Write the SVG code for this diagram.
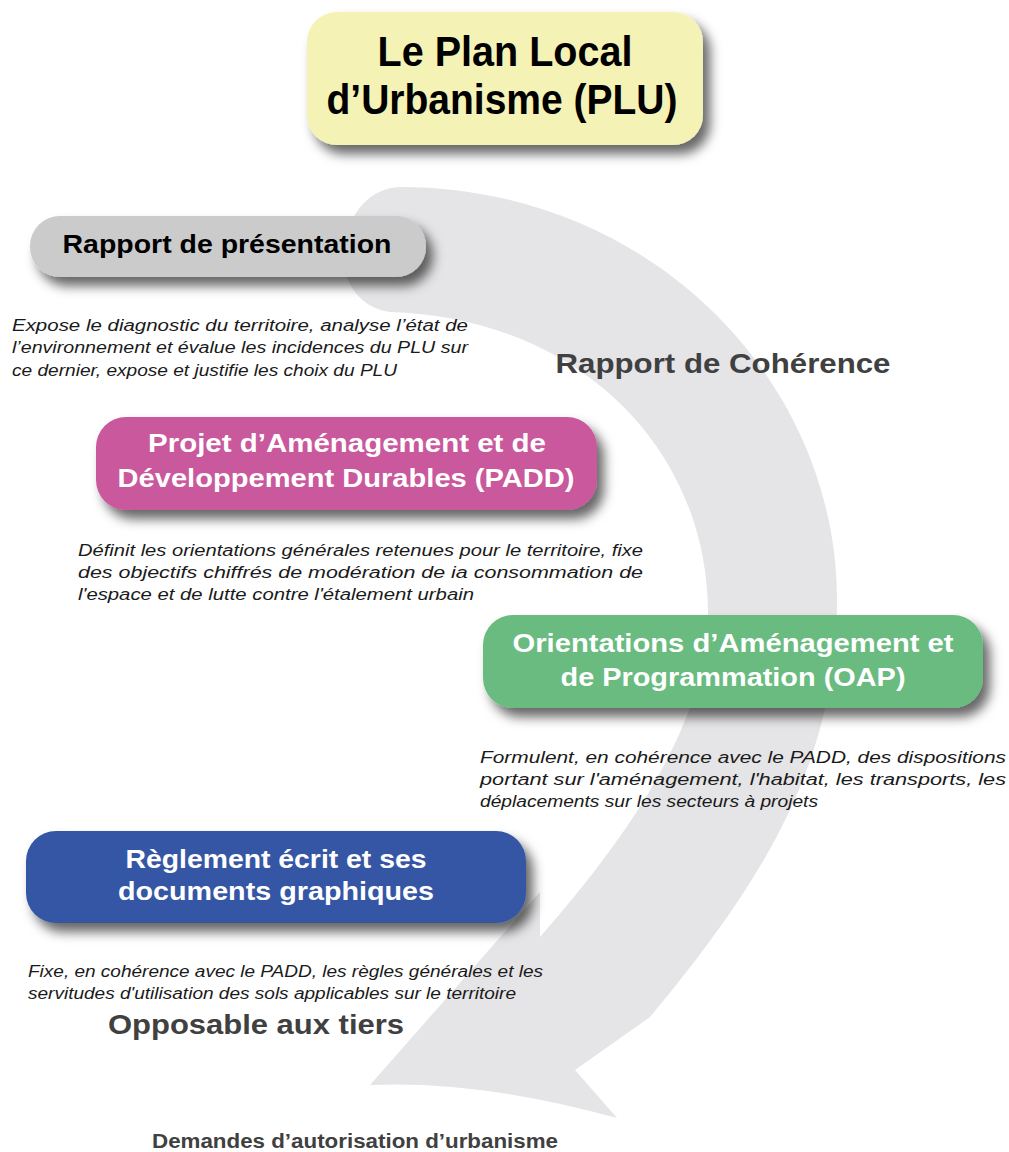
<svg xmlns="http://www.w3.org/2000/svg" width="1009" height="1152" viewBox="0 0 1009 1152">
  <defs>
    <filter id="shadow" x="-10%" y="-20%" width="130%" height="160%">
      <feDropShadow dx="7" dy="9" stdDeviation="6" flood-color="#000" flood-opacity="0.6"/>
    </filter>
    <style>
      .hdr { font-family: "Liberation Sans", Arial, sans-serif; font-weight: bold; text-anchor: middle; }
      .desc { font-family: "Liberation Sans", Arial, sans-serif; font-style: italic; font-size: 16px; fill: #1a1a1a; }
      .gray { font-family: "Liberation Sans", Arial, sans-serif; font-weight: bold; fill: #404040; text-anchor: middle; }
      .box { filter: url(#shadow); }
    </style>
  </defs>
  <rect width="1009" height="1152" fill="#ffffff"/>

  <g id="connectors">
    <path id="arc-arrow" fill="#e5e4e6" d="M 400,187 C 650,187 837,380 837,600 C 837,770 755,890 650,1017 L 575,1070 L 617,1118 Q 480,1080 370,1085 L 540,892 L 540,937 C 630,835 708,720 708,613 C 708,450 580,318 390,312 C 355,308 338,272 344,245 C 350,210 372,188 400,187 Z"/>
  </g>

  <g id="node-plu">
    <rect class="box" x="307" y="12" width="396" height="133" rx="30" fill="#f5f2b6"/>
    <text class="hdr" x="505" y="66" font-size="42" fill="#000" textLength="255" lengthAdjust="spacingAndGlyphs">Le Plan Local</text>
    <text class="hdr" x="502" y="114" font-size="42" fill="#000" textLength="351" lengthAdjust="spacingAndGlyphs">d’Urbanisme (PLU)</text>
  </g>

  <g id="node-rapport">
    <rect class="box" x="30" y="216" width="396" height="61" rx="30" fill="#cbcbcb"/>
    <text class="hdr" x="227" y="253" font-size="26" fill="#000" textLength="329" lengthAdjust="spacingAndGlyphs">Rapport de présentation</text>
    <text class="desc" x="12" y="331" textLength="456" lengthAdjust="spacingAndGlyphs">Expose le diagnostic du territoire, analyse l’état de</text>
    <text class="desc" x="12" y="353" textLength="456" lengthAdjust="spacingAndGlyphs">l’environnement et évalue les incidences du PLU sur</text>
    <text class="desc" x="12" y="376" textLength="385" lengthAdjust="spacingAndGlyphs">ce dernier, expose et justifie les choix du PLU</text>
  </g>

  <g id="label-coherence">
    <text class="gray" x="723" y="373" font-size="28" textLength="335" lengthAdjust="spacingAndGlyphs">Rapport de Cohérence</text>
  </g>

  <g id="node-padd">
    <rect class="box" x="96" y="417" width="501" height="93" rx="30" fill="#c9589c"/>
    <text class="hdr" x="347" y="452" font-size="26" fill="#fff" textLength="398" lengthAdjust="spacingAndGlyphs">Projet d’Aménagement et de</text>
    <text class="hdr" x="346" y="487" font-size="26" fill="#fff" textLength="457" lengthAdjust="spacingAndGlyphs">Développement Durables (PADD)</text>
    <text class="desc" x="78" y="556" textLength="565" lengthAdjust="spacingAndGlyphs">Définit les orientations générales retenues pour le territoire, fixe</text>
    <text class="desc" x="78" y="578" textLength="565" lengthAdjust="spacingAndGlyphs">des objectifs chiffrés de modération de ia consommation de</text>
    <text class="desc" x="78" y="600" textLength="396" lengthAdjust="spacingAndGlyphs">l'espace et de lutte contre l'étalement urbain</text>
  </g>

  <g id="node-oap">
    <rect class="box" x="483" y="615" width="500" height="93" rx="30" fill="#69bb7f"/>
    <text class="hdr" x="733" y="652" font-size="26" fill="#fff" textLength="441" lengthAdjust="spacingAndGlyphs">Orientations d’Aménagement et</text>
    <text class="hdr" x="733" y="686" font-size="26" fill="#fff" textLength="345" lengthAdjust="spacingAndGlyphs">de Programmation (OAP)</text>
    <text class="desc" x="480" y="763" textLength="526" lengthAdjust="spacingAndGlyphs">Formulent, en cohérence avec le PADD, des dispositions</text>
    <text class="desc" x="480" y="785" textLength="526" lengthAdjust="spacingAndGlyphs">portant sur l'aménagement, l'habitat, les transports, les</text>
    <text class="desc" x="480" y="807" textLength="338" lengthAdjust="spacingAndGlyphs">déplacements sur les secteurs à projets</text>
  </g>

  <g id="node-reglement">
    <rect class="box" x="26" y="831" width="500" height="92" rx="30" fill="#3657a5"/>
    <text class="hdr" x="276" y="868" font-size="26" fill="#fff" textLength="301" lengthAdjust="spacingAndGlyphs">Règlement écrit et ses</text>
    <text class="hdr" x="276" y="900" font-size="26" fill="#fff" textLength="316" lengthAdjust="spacingAndGlyphs">documents graphiques</text>
    <text class="desc" x="28" y="977" textLength="515" lengthAdjust="spacingAndGlyphs">Fixe, en cohérence avec le PADD, les règles générales et les</text>
    <text class="desc" x="28" y="999" textLength="488" lengthAdjust="spacingAndGlyphs">servitudes d'utilisation des sols applicables sur le territoire</text>
  </g>

  <g id="label-opposable">
    <text class="gray" x="256" y="1034" font-size="28" textLength="296" lengthAdjust="spacingAndGlyphs">Opposable aux tiers</text>
  </g>

  <g id="label-demandes">
    <text class="gray" x="355" y="1148" font-size="20" textLength="406" lengthAdjust="spacingAndGlyphs">Demandes d’autorisation d’urbanisme</text>
  </g>
</svg>
